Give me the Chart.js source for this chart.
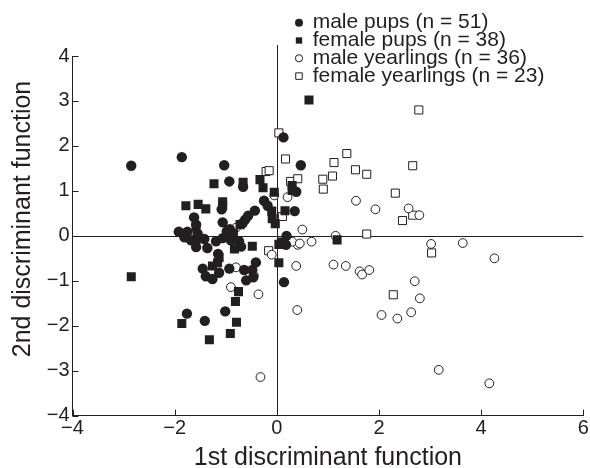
<!DOCTYPE html>
<html>
<head>
<meta charset="utf-8">
<script src="https://cdn.jsdelivr.net/npm/chart.js@4.4.1/dist/chart.umd.min.js"></script>
<style>
  html, body { margin: 0; padding: 0; background: #fff; }
  #wrap { width: 590px; height: 468px; }
</style>
</head>
<body>
<div id="wrap"><canvas id="chart"></canvas></div>
<script>
// [1st discriminant function, 2nd discriminant function] per animal
const malePups = [
  [-2.85, 1.56], [-1.86, 1.75], [-1.03, 1.57], [-0.93, 1.21], [-0.66, 1.09],
  [0.13, 2.19], [0.47, 1.57], [0.38, 0.98], [-1.08, 0.59], [-1.62, 0.41],
  [-1.92, 0.09], [-1.75, 0.09], [-1.06, 0.3], [-0.67, 0.28], [-0.62, 0.36],
  [-0.56, 0.45], [-0.43, 0.56], [-0.25, 0.78], [-0.18, 0.67], [0.35, 0.55],
  [0.19, 0.0], [0.18, -0.2], [0.14, -1.03], [-1.81, -0.03], [-1.68, -0.1],
  [-1.55, 0.05], [-1.42, -0.07], [-1.58, -0.25], [-1.36, -0.27], [-1.19, -0.12],
  [-1.15, -0.4], [-1.06, -0.05], [-0.9, -0.1], [-0.98, 0.1], [-0.92, 0.15],
  [-0.74, -0.12], [-0.7, -0.24], [-1.45, -0.73], [-1.39, -0.9], [-1.26, -0.96],
  [-1.13, -0.82], [-0.93, -0.73], [-0.64, -0.76], [-0.48, -0.76], [-0.41, -0.59],
  [-0.6, -0.99], [-0.46, -0.92], [-1.76, -1.73], [-1.41, -1.89], [-1.01, -1.68],
  [-1.58, 0.25]
];
const femalePups = [
  [-2.85, -0.91], [-1.23, 1.16], [-0.66, 1.19], [-0.33, 1.25], [-0.27, 1.07],
  [-0.05, 0.97], [0.63, 3.02], [0.3, 1.12], [0.3, 1.01], [-1.78, 0.67],
  [-1.54, 0.7], [-1.39, 0.6], [-1.06, 0.76], [-1.06, 0.67], [-0.1, 0.55],
  [-0.09, 0.38], [-0.03, 0.27], [0.16, 0.56], [0.04, -0.19], [0.11, -0.14],
  [0.04, -0.6], [-0.48, -0.23], [-0.83, -0.29], [-1.13, -0.48], [-1.16, -0.6],
  [-1.26, -0.67], [-1.86, -1.95], [-1.32, -2.31], [-0.91, -2.17], [-0.79, -1.92],
  [-0.81, -1.46], [-0.75, -1.24], [1.18, -0.09], [-1.58, 0.2], [-0.94, 0.12],
  [-0.85, 0.05], [-0.72, 0.25], [-1.58, -0.08]
];
const maleYearlings = [
  [-0.05, 0.9], [0.21, 0.86], [1.55, 0.78], [1.93, 0.59], [2.58, 0.61],
  [2.79, 0.46], [0.5, 0.14], [1.15, 0.0], [0.68, -0.13], [0.41, -0.2],
  [0.3, -0.13], [3.02, -0.18], [3.64, -0.16], [4.26, -0.5], [0.38, -0.67],
  [0.4, -1.65], [1.11, -0.64], [1.35, -0.67], [1.62, -0.79], [1.67, -0.86],
  [1.81, -0.76], [2.7, -1.01], [2.8, -1.39], [2.05, -1.76], [2.36, -1.84],
  [2.63, -1.7], [3.17, -2.98], [4.16, -3.28], [-0.32, -3.14], [-0.36, -1.3],
  [-0.1, -0.42], [-0.8, -0.7], [-0.9, -1.14], [-0.45, -0.88], [-0.8, 0.18],
  [0.45, -0.17]
];
const femaleYearlings = [
  [0.04, 2.29], [0.17, 1.71], [-0.21, 1.43], [-0.15, 1.45], [2.78, 2.8],
  [1.12, 1.63], [1.37, 1.83], [1.54, 1.47], [1.76, 1.37], [2.66, 1.56],
  [1.09, 1.33], [0.9, 1.26], [0.91, 1.04], [2.32, 0.95], [2.66, 0.46],
  [2.46, 0.34], [1.76, 0.04], [3.03, -0.38], [2.28, -1.31], [-0.16, -0.33],
  [0.27, 1.21], [0.41, 1.27], [0.11, 0.43]
];
const seriesLabels = [
  'male pups (n = 51)',
  'female pups (n = 38)',
  'male yearlings (n = 36)',
  'female yearlings (n = 23)'
];
const xTitle = '1st discriminant function';
const yTitle = '2nd discriminant function';

const ink = '#231f20';
const family = "'Liberation Sans', Arial, Helvetica, sans-serif";
Chart.defaults.font.family = family;
Chart.defaults.color = ink;

const toPoints = arr => arr.map(([x, y]) => ({ x, y }));
const minus = v => (v < 0 ? '\u2212' + Math.abs(v) : String(v));

// marker look for each series (also used for the legend)
const markers = [
  { style: 'circle', radius: 5.2, fill: ink, legend: 4 },
  { style: 'rect', radius: 6.4, fill: ink, legend: 4.5 },
  { style: 'circle', radius: 4.4, fill: '#fff', legend: 3.6 },
  { style: 'rect', radius: 5.7, fill: '#fff', legend: 4.6 }
];
const seriesData = [malePups, femalePups, maleYearlings, femaleYearlings];

const datasets = seriesData.map((d, i) => ({
  label: seriesLabels[i],
  data: toPoints(d),
  pointStyle: markers[i].style,
  pointRadius: markers[i].radius,
  pointHoverRadius: markers[i].radius,
  pointBackgroundColor: markers[i].fill,
  pointBorderColor: ink,
  pointBorderWidth: markers[i].fill === ink ? 0 : 1,
  showLine: false
}));

const extras = {
  id: 'extras',
  beforeDatasetsDraw(chart) {
    const { ctx, chartArea: a, scales: { x, y } } = chart;
    ctx.save();
    ctx.strokeStyle = ink;
    ctx.lineWidth = 1;
    ctx.beginPath();
    // zero lines
    const x0 = Math.round(x.getPixelForValue(0)) + 0.5;
    const y0 = Math.round(y.getPixelForValue(0)) + 0.5;
    ctx.moveTo(x0, a.top - 11);
    ctx.lineTo(x0, a.bottom);
    ctx.moveTo(a.left, y0);
    ctx.lineTo(a.right, y0);
    // inward ticks
    x.ticks.forEach(t => {
      const px = Math.round(x.getPixelForValue(t.value)) + 0.5;
      ctx.moveTo(px, a.bottom);
      ctx.lineTo(px, a.bottom - 6);
    });
    y.ticks.forEach(t => {
      const py = Math.round(y.getPixelForValue(t.value)) + 0.5;
      ctx.moveTo(a.left, py);
      ctx.lineTo(a.left + 6, py);
    });
    ctx.stroke();
    ctx.restore();
  },
  afterDraw(chart) {
    const { ctx } = chart;
    ctx.save();
    ctx.fillStyle = ink;
    // y axis title
    ctx.save();
    ctx.translate(23, 219);
    ctx.rotate(-Math.PI / 2);
    ctx.font = '25px ' + family;
    ctx.textAlign = 'center';
    ctx.textBaseline = 'middle';
    ctx.fillText(yTitle, 0, 0);
    ctx.restore();
    // legend
    ctx.font = '21px ' + family;
    ctx.textAlign = 'left';
    ctx.textBaseline = 'alphabetic';
    ctx.strokeStyle = ink;
    ctx.lineWidth = 1;
    seriesLabels.forEach((label, i) => {
      const m = markers[i];
      const cy = 22.7 + i * 17.8;
      const cx = 299;
      ctx.beginPath();
      if (m.style === 'circle') {
        ctx.arc(cx, cy, m.legend, 0, Math.PI * 2);
      } else {
        const s = m.legend * Math.SQRT1_2;
        ctx.rect(cx - s, cy - s, 2 * s, 2 * s);
      }
      ctx.fillStyle = m.fill;
      ctx.fill();
      if (m.fill !== ink) ctx.stroke();
      ctx.fillStyle = ink;
      ctx.fillText(label, 312.7, cy + 5.5);
    });
    ctx.restore();
  }
};

new Chart(document.getElementById('chart'), {
  type: 'scatter',
  data: { datasets },
  options: {
    responsive: true,
    maintainAspectRatio: false,
    animation: false,
    layout: { padding: { top: 56, right: 5.3, bottom: 0, left: 0 } },
    plugins: {
      legend: { display: false },
      tooltip: { enabled: false }
    },
    scales: {
      x: {
        type: 'linear',
        min: -4,
        max: 6,
        afterFit: s => { s.height = 52.3; s.paddingLeft = 0; s.paddingRight = 0; },
        grid: { display: false, drawTicks: false },
        border: { display: true, color: ink, width: 1 },
        ticks: { stepSize: 2, padding: 1, color: ink, font: { size: 20 }, callback: minus, maxRotation: 0 },
        title: {
          display: true,
          text: xTitle,
          color: ink,
          font: { size: 25, lineHeight: 0.8 },
          padding: { top: 0, bottom: 0 }
        }
      },
      y: {
        type: 'linear',
        min: -4,
        max: 4,
        afterFit: s => { s.width = 72.5; s.paddingTop = 0; s.paddingBottom = 0; },
        grid: { display: false, drawTicks: false },
        border: { display: true, color: ink, width: 1 },
        ticks: { stepSize: 1, padding: 3, color: ink, font: { size: 20 }, callback: minus }
      }
    }
  },
  plugins: [extras]
});
</script>
</body>
</html>
